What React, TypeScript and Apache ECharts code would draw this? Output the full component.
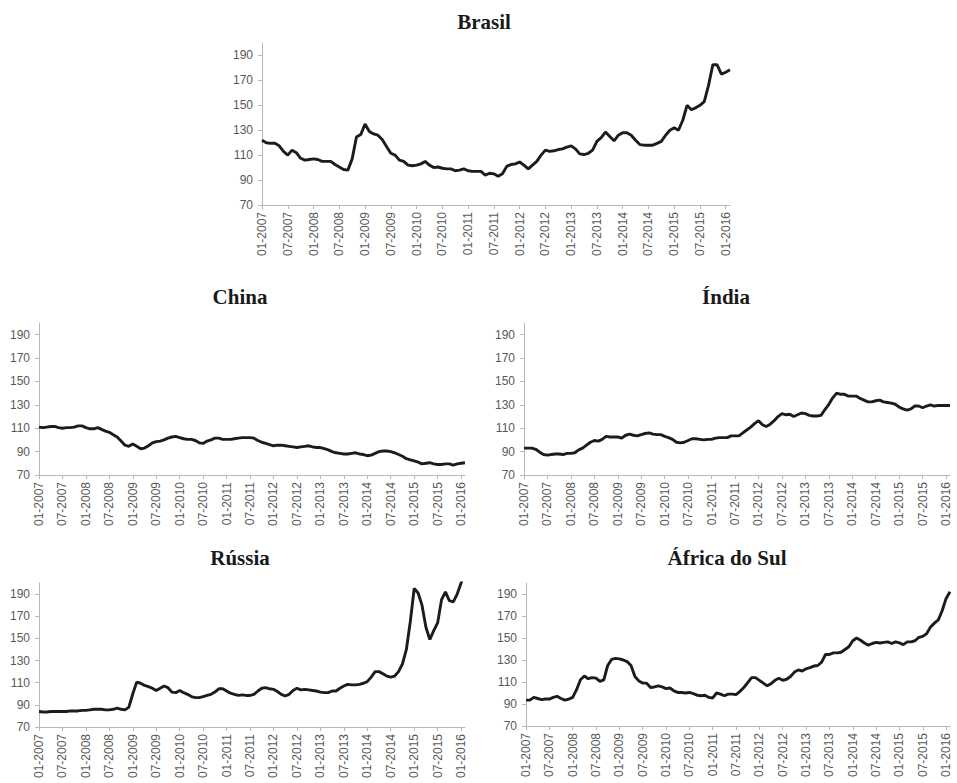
import React, { useEffect, useRef } from "react";
import * as echarts from "echarts";

// Month categories 01-2007 .. 02-2016
const categories: string[] = [];
for (let y = 2007; y <= 2016; y++) {
  for (let m = 1; m <= 12; m++) {
    if (categories.length < 110) categories.push(`${String(m).padStart(2, "0")}-${y}`);
  }
}

const yTicks = [70, 90, 110, 130, 150, 170, 190];

const brasil = [
  122, 120, 119.5, 119.5, 117.5, 113, 110, 114, 112, 107.5,
  106, 106.5, 107, 106.5, 105, 105, 105, 102.5, 100.5, 98.5,
  98, 107, 124.5, 126.5, 135, 129, 127, 126, 122.5, 117,
  111.5, 110, 106, 105, 102, 101.5, 102, 103, 105, 102,
  100, 100.5, 99.5, 99, 99, 97.5, 98, 99, 97.5, 97,
  97, 97, 94, 95.5, 95, 93, 95, 101, 102.5, 103,
  104.5, 102, 99, 102, 105, 110, 114, 113, 113.5, 114.5,
  115, 116.5, 117.5, 115, 111, 110.5, 111.5, 114, 121, 124,
  128.5, 125, 121.5, 126, 128, 128, 126, 122, 118.5, 118,
  118, 118, 119.5, 121, 126, 130, 132, 130, 138, 150,
  146.5, 148, 150, 153, 166, 182.5, 182.5, 175, 176.5, 178.5,
];

const china = [
  111, 110.5, 111, 111.5, 111.5, 110.5, 110, 110.5, 110.5, 111,
  112, 112, 110.5, 109.5, 109.5, 110.5, 109, 107.5, 106.5, 104.5,
  102.5, 99, 95.5, 94.5, 96.5, 94.5, 92.5, 93, 95, 97.5,
  98.5, 99, 100, 101.5, 102.5, 103, 102, 101, 100.5, 100.5,
  99.5, 97.5, 97, 99, 100, 101.5, 101.5, 100.5, 100.5, 100.5,
  101, 101.5, 102, 102, 102, 101.5, 99.5, 98, 97, 96,
  95, 95.5, 95.5, 95, 94.5, 94, 93.5, 94, 94.5, 95,
  94, 93.5, 93.5, 92.5, 91.5, 90, 89, 88.5, 88, 88,
  88.5, 89, 88, 87.5, 86.5, 87, 88.5, 90, 90.5, 90.5,
  90, 89, 87.5, 86, 84, 83, 82, 81, 79.5, 80,
  80.5, 79.5, 79, 79, 79.5, 79.5, 78.5, 79.5, 80, 80.5,
];

const india = [
  93, 93, 93, 92, 89.5, 87.5, 87, 87.5, 88, 88,
  87.5, 88.5, 88.5, 89, 91.5, 93, 95.5, 98, 99.5, 99,
  100.5, 103, 102.5, 102.5, 102.5, 101.5, 104, 105, 104, 103.5,
  104.5, 105.5, 106, 105, 104.5, 104.5, 103, 102, 100.5, 98,
  97.5, 98, 99.5, 101, 101, 100.5, 100, 100.5, 100.5, 101.5,
  102, 102, 102, 103.5, 103.5, 103.5, 106, 108.5, 111, 114,
  116.5, 113, 111.5, 113.5, 116.5, 120, 122.5, 121.5, 122, 120,
  121.5, 123, 122.5, 121, 120.5, 120.5, 121, 126, 130.5, 136,
  140, 139, 139, 137.5, 137.5, 137.5, 135.5, 134, 132.5, 132.5,
  133.5, 134, 132.5, 132, 131.5, 130.5, 128, 126.5, 125.5, 126.5,
  129, 129, 127.5, 129, 130, 129, 129.5, 129.5, 129.5, 129.5,
];

const russia = [
  84, 83.5, 83.5, 84, 84, 84, 84, 84, 84.5, 84.5,
  84.5, 85, 85, 85.5, 86, 86, 86, 85.5, 85.5, 86,
  87, 86, 85.5, 88, 100, 110.5, 109.5, 107.5, 106.5, 105,
  103, 105, 107, 105.5, 101.5, 101, 103, 101, 99.5, 97.5,
  96.5, 96.5, 97.5, 98.5, 99.5, 101.5, 104.5, 104.5, 102.5, 100.5,
  99.5, 98.5, 99, 98.5, 98.5, 99.5, 102.5, 105, 105.5, 104.5,
  104, 102, 99.5, 98, 99.5, 103, 105, 103.5, 104, 103.5,
  103, 102.5, 101.5, 101, 101, 102.5, 102.5, 105, 107, 108.5,
  108, 108, 108.5, 109.5, 111, 115, 120, 120, 118, 116,
  115, 116, 120, 127, 140, 165, 195, 191, 180, 160,
  149, 157, 164, 185, 192, 184, 183, 190, 200, 212,
];

const africa = [
  93.5, 93.5, 96, 95, 94, 94.5, 94.5, 96, 97, 95,
  93.5, 94.5, 96, 103, 112, 115.5, 113, 114, 113.5, 110.5,
  112, 125, 130.5, 131.5, 131, 130, 128.5, 125, 115, 111,
  109, 109, 105, 105.5, 106.5, 105.5, 104, 104.5, 102, 100.5,
  100.5, 100, 100.5, 99.5, 98, 97.5, 98, 96, 95.5, 100,
  99, 97.5, 99, 99, 98.5, 101.5, 105, 109.5, 114, 114,
  111.5, 109, 106.5, 108.5, 111.5, 113.5, 111.5, 112.5, 115, 119,
  121, 120, 122, 123, 124.5, 125, 128, 135, 135, 136.5,
  136.5, 137, 139.5, 142, 147.5, 150, 148, 145.5, 143.5, 145,
  146, 145.5, 146, 146.5, 145, 146.5, 145.5, 144, 146.5, 146.5,
  147.5, 150.5, 151.5, 154, 160, 163.5, 166.5, 175, 186, 192,
];

const titles = ["Brasil", "China", "Índia", "Rússia", "África do Sul"];
const seriesData = [brasil, china, india, russia, africa];

// layout (positions / sizes)
const grids = [
  { left: 262, top: 43, width: 468, height: 162 },
  { left: 39, top: 323, width: 426, height: 152 },
  { left: 524, top: 323, width: 426, height: 152 },
  { left: 39, top: 583, width: 426, height: 144 },
  { left: 526, top: 583, width: 424, height: 143 },
];
const titlePos = [
  [484, 22],
  [240, 297],
  [726, 297],
  [240, 558],
  [727, 558],
];

const AXIS_COLOR = "#b8b8b8";
const LABEL_COLOR = "#595959";

export default function App() {
  const ref = useRef<HTMLDivElement>(null);
  useEffect(() => {
    if (!ref.current) return;
    const chart = echarts.init(ref.current, undefined, { renderer: "svg" });
    const option = {
      animation: false,
      backgroundColor: "#ffffff",
      grid: grids.map((g) => ({ ...g, containLabel: false })),
      xAxis: grids.map((_, i) => ({
        type: "category",
        gridIndex: i,
        data: categories,
        boundaryGap: false,
        axisLine: { show: true, lineStyle: { color: AXIS_COLOR, width: 1 } },
        axisTick: { show: true, interval: 5, length: 4, lineStyle: { color: AXIS_COLOR } },
        axisLabel: {
          interval: 5,
          rotate: 90,
          color: LABEL_COLOR,
          fontSize: 12,
          fontFamily: "Liberation Sans",
          margin: 7,
        },
        splitLine: { show: false },
      })),
      yAxis: grids.map((_, i) => ({
        type: "value",
        gridIndex: i,
        min: 70,
        max: 200,
        axisLine: { show: true, lineStyle: { color: AXIS_COLOR, width: 1 } },
        axisTick: { show: true, length: 4, customValues: yTicks, lineStyle: { color: AXIS_COLOR } },
        axisLabel: {
          customValues: yTicks,
          color: LABEL_COLOR,
          fontSize: 12,
          fontFamily: "Liberation Sans",
          margin: 9,
        },
        splitLine: { show: false },
      })),
      series: seriesData.map((d, i) => ({
        type: "line",
        name: titles[i],
        xAxisIndex: i,
        yAxisIndex: i,
        data: d,
        symbol: "none",
        showSymbol: false,
        clip: true,
        lineStyle: { color: "#1c1c1c", width: 2.9 },
      })),
      graphic: titles.map((t, i) => ({
        type: "text",
        x: titlePos[i][0],
        y: titlePos[i][1],
        style: {
          text: t,
          fontFamily: "Liberation Serif",
          fontWeight: "bold",
          fontSize: 21,
          fill: "#1a1a1a",
          align: "center",
          verticalAlign: "middle",
        },
      })),
    };
    chart.setOption(option as any);
    return () => chart.dispose();
  }, []);
  return (
    <div
      ref={ref}
      style={{ position: "absolute", left: 0, top: 0, width: 957, height: 783 }}
    />
  );
}
